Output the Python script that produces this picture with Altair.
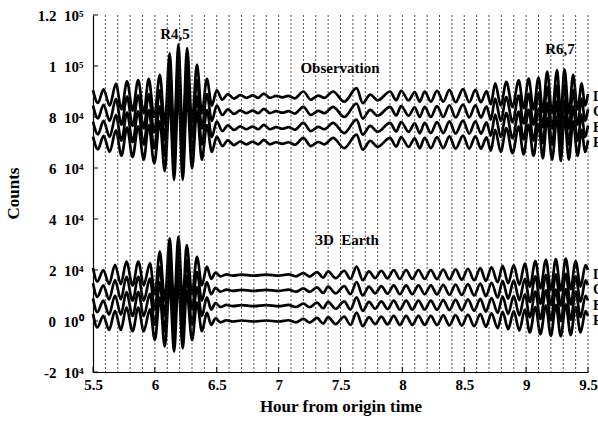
import altair as alt
import pandas as pd

# ---- observation traces: extrema times (h) and deviation from baseline (counts)
OBS_T = [5.50, 5.54, 5.585, 5.635, 5.685, 5.73, 5.775, 5.82, 5.865, 5.91, 5.95, 5.995,
         6.04, 6.08, 6.12, 6.155, 6.19, 6.225, 6.26, 6.30, 6.34, 6.38, 6.42, 6.46,
         6.50, 6.545, 6.59, 6.64, 6.69, 6.74, 6.79, 6.835, 6.88, 6.93, 6.98, 7.03,
         7.08, 7.13, 7.20, 7.26, 7.32, 7.37, 7.44, 7.53, 7.63, 7.68, 7.74, 7.80,
         7.90, 7.95, 7.99, 8.05, 8.10, 8.14, 8.18, 8.23, 8.28, 8.33, 8.38, 8.43,
         8.49, 8.54, 8.59, 8.635, 8.68, 8.715, 8.75, 8.795, 8.84, 8.89, 8.94, 8.98,
         9.02, 9.06, 9.10, 9.135, 9.17, 9.21, 9.25, 9.28, 9.31, 9.345, 9.38, 9.415,
         9.45, 9.475, 9.50]
OBS_D = [2500, -2500, 2800, -3500, 5000, -5000, 6000, -5500, 6500, -6500, 7000, -8000,
         8500, -11000, 17000, -14500, 20500, -14500, 19000, -10000, 12500, -6500, 7000, -3500,
         2500, -1200, 1000, -800, 600, -500, 500, -500, 1200, -500, 300, -300,
         300, -700, 2000, -1200, 400, -500, 2000, -2000, 3300, -2600, 800, -1500,
         2000, -1400, 2300, -1500, 1800, -2000, 2000, -2000, 2300, -2000, 2600, -2200,
         2900, -2200, 2600, -2200, 2200, -3000, 5200, -3500, 5800, -4000, 6400, -4500,
         7100, -5000, 7500, -6000, 9800, -6500, 10400, -7000, 10700, -6500, 8500, -5000,
         5200, -3500, 1000]
OBS_BASE = [88000, 82000, 75700, 69800]

# ---- 3D Earth traces
EARTH_T = [5.50, 5.535, 5.583, 5.63, 5.678, 5.725, 5.77, 5.82, 5.866, 5.91, 5.96, 6.00,
           6.04, 6.08, 6.12, 6.155, 6.19, 6.225, 6.257, 6.30, 6.34, 6.38, 6.42, 6.455,
           6.49, 6.53, 6.58, 6.63, 6.70, 6.80, 6.90, 7.00, 7.08, 7.14, 7.20, 7.25,
           7.31, 7.36, 7.40, 7.46, 7.53, 7.58, 7.63, 7.68, 7.73, 7.78, 7.83, 7.88,
           7.93, 7.98, 8.03, 8.08, 8.13, 8.18, 8.23, 8.28, 8.33, 8.38, 8.43, 8.48,
           8.53, 8.58, 8.63, 8.675, 8.72, 8.77, 8.81, 8.855, 8.90, 8.945, 8.99, 9.03,
           9.075, 9.115, 9.16, 9.20, 9.24, 9.28, 9.32, 9.36, 9.40, 9.44, 9.48, 9.50]
EARTH_D = [2800, -2500, 2000, -3500, 4000, -3500, 5300, -4000, 5300, -4000, 4600, -7500,
           9200, -10000, 14400, -12000, 15100, -10700, 11800, -7500, 7200, -4000, 3300, -1500,
           1000, -500, 300, -200, 200, -200, 200, -200, 300, -500, 800, -600,
           1200, -1000, 1500, -1200, 1700, -1500, 3300, -2000, 1500, -1200, 1700, -1300,
           2000, -1500, 2000, -1500, 2000, -1500, 2000, -1600, 2200, -1700, 2300, -1800,
           2500, -2000, 2700, -2300, 3000, -2800, 3600, -3200, 3900, -3800, 4500, -4500,
           5500, -5200, 6000, -5800, 6300, -6000, 6500, -5500, 5500, -4500, 3900, 2000]
EARTH_BASE = [18000, 12000, 6000, 0]

TRACE_LABELS = ["D", "C", "B", "E"]

GRID_X = [5.6, 5.7, 5.8, 5.9, 6.0, 6.1, 6.2, 6.3, 6.4, 6.5, 6.6, 6.7, 6.8, 6.9, 7.0,
          7.1, 7.2, 7.3, 7.4, 7.5, 7.6, 7.7, 7.8, 7.9, 8.0, 8.1, 8.2, 8.3, 8.4, 8.5,
          8.6, 8.7, 8.8, 8.9, 9.0, 9.1, 9.2, 9.3, 9.4, 9.5]
X_TICKS = [5.5, 6, 6.5, 7, 7.5, 8, 8.5, 9, 9.5]
Y_TICKS = [-20000, 0, 20000, 40000, 60000, 80000, 100000, 120000]
Y_LABELS = ["-2\u00a0\u00a010\u2074", "0\u00a0\u00a010\u2070", "2\u00a0\u00a010\u2074",
            "4\u00a0\u00a010\u2074", "6\u00a0\u00a010\u2074", "8\u00a0\u00a010\u2074",
            "1\u00a0\u00a010\u2075", "1.2\u00a0\u00a010\u2075"]

ANN_TEXT = ["R4,5", "Observation", "R6,7", "3D\u00a0\u00a0Earth"]
ANN_T = [6.163, 7.496, 9.274, 7.553]
ANN_V = [112500, 99200, 106700, 31800]

# ---- build tables
rows = []
for i, b in enumerate(OBS_BASE):
    for t, d in zip(OBS_T, OBS_D):
        rows.append({"t": t, "v": b + d, "trace": f"obs{i}"})
for i, b in enumerate(EARTH_BASE):
    for t, d in zip(EARTH_T, EARTH_D):
        rows.append({"t": t, "v": b + d, "trace": f"earth{i}"})
df = pd.DataFrame(rows)

lab_rows = []
for lbl, b in zip(TRACE_LABELS, OBS_BASE):
    lab_rows.append({"t": 9.54, "v": b, "text": lbl})
for lbl, b in zip(TRACE_LABELS, EARTH_BASE):
    lab_rows.append({"t": 9.54, "v": b, "text": lbl})
lab_df = pd.DataFrame(lab_rows)

ann_df = pd.DataFrame({"t": ANN_T, "v": ANN_V, "text": ANN_TEXT})
grid_df = pd.DataFrame({"t": GRID_X})
xt_df = pd.DataFrame({"t": X_TICKS})
yt_df = pd.DataFrame({"v": Y_TICKS})

W, H = 495, 357
FONT = "Liberation Serif"

xscale = alt.Scale(domain=[5.5, 9.5], nice=False, zero=False)
yscale = alt.Scale(domain=[-20000, 120000], nice=False, zero=False)

label_expr = ""
for v, l in zip(Y_TICKS, Y_LABELS):
    label_expr += f"datum.value == {v} ? '{l}' : "
label_expr += "''"

X_AXIS = alt.Axis(values=X_TICKS, format="~g", ticks=False, grid=False,
                  labelPadding=5, labelFlush=False, labelOverlap=False,
                  title="Hour from origin time",
                  titlePadding=6, titleFontSize=17)
Y_AXIS = alt.Axis(values=Y_TICKS, labelExpr=label_expr, ticks=False, grid=False,
                  labelPadding=10, labelFlush=False, labelOverlap=False,
                  title="Counts", titleFontSize=17,
                  titleX=-71, titleY=178)


def X(field="t:Q"):
    return alt.X(field, scale=xscale, axis=X_AXIS)


def Y(field="v:Q"):
    return alt.Y(field, scale=yscale, axis=Y_AXIS)


grid = alt.Chart(grid_df).mark_rule(
    strokeDash=[2, 2], color="#222", strokeWidth=0.8
).encode(x=X())

lines = alt.Chart(df).mark_line(
    color="black", strokeWidth=2.7, interpolate="monotone"
).encode(x=X(), y=Y(), detail="trace:N")

xticks = alt.Chart(xt_df).mark_rule(color="black", strokeWidth=1).encode(
    x=X(), y=alt.value(H), y2=alt.value(H - 5),
)
yticks = alt.Chart(yt_df).mark_rule(color="black", strokeWidth=1).encode(
    y=Y(), x=alt.value(0), x2=alt.value(5),
)

ann = alt.Chart(ann_df).mark_text(
    font=FONT, fontWeight="bold", fontSize=15, color="black", baseline="middle"
).encode(x=X(), y=Y(), text="text:N")

labs = alt.Chart(lab_df).mark_text(
    font=FONT, fontWeight="bold", fontSize=14, color="black", baseline="middle", align="left"
).encode(x=X(), y=Y(), text="text:N")

chart = alt.layer(lines, grid, xticks, yticks, ann, labs).properties(
    width=W, height=H,
    autosize=alt.AutoSizeParams(type="none"),
    padding={"left": 93, "top": 15, "right": 10, "bottom": 51},
).configure_view(stroke=None).configure_axis(
    labelFont=FONT, labelFontWeight="bold", labelFontSize=15, labelColor="black",
    titleFont=FONT, titleFontWeight="bold", titleColor="black",
    domainColor="black", domainWidth=1.2,
)

chart.save("out.html", embed_options={"renderer": "svg", "actions": False})
